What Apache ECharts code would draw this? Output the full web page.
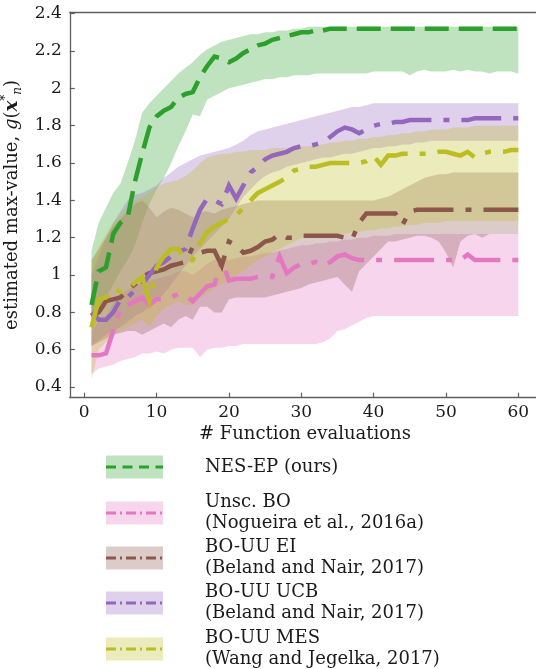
<!DOCTYPE html>
<html>
<head>
<meta charset="utf-8">
<script src="https://cdn.jsdelivr.net/npm/echarts@6/dist/echarts.min.js"></script>
<style>
  html, body { margin: 0; padding: 0; background: #fff; }
  #chart { width: 536px; height: 669px; }
</style>
</head>
<body>
<div id="chart"></div>
<script>
// number of function evaluations
const evals = [1, 2, 3, 4, 5, 6, 7, 8, 9, 10, 11, 12, 13, 14, 15, 16, 17, 18, 19, 20,
  21, 22, 23, 24, 25, 26, 27, 28, 29, 30, 31, 32, 33, 34, 35, 36, 37, 38, 39, 40,
  41, 42, 43, 44, 45, 46, 47, 48, 49, 50, 51, 52, 53, 54, 55, 56, 57, 58, 59, 60];

const xTicks = [0, 10, 20, 30, 40, 50, 60];
const yTicks = [0.4, 0.6, 0.8, 1, 1.2, 1.4, 1.6, 1.8, 2, 2.2, 2.4];

// NES-EP (ours)
const nesMean = [0.84, 1.02, 1.04, 1.22, 1.28, 1.31, 1.50, 1.65, 1.79, 1.85,
  1.88, 1.90, 1.95, 1.97, 1.98, 2.06, 2.12, 2.17, 2.16, 2.14,
  2.16, 2.19, 2.21, 2.23, 2.24, 2.26, 2.27, 2.28, 2.29, 2.30,
  2.30, 2.31, 2.31, 2.32, 2.32, 2.32, 2.32, 2.32, 2.32, 2.32,
  2.32, 2.32, 2.32, 2.32, 2.32, 2.32, 2.32, 2.32, 2.32, 2.32,
  2.32, 2.32, 2.32, 2.32, 2.32, 2.32, 2.32, 2.32, 2.32, 2.32];
const nesLow = [0.72, 0.80, 0.88, 0.95, 1.02, 1.08, 1.16, 1.28, 1.38, 1.46,
  1.52, 1.60, 1.69, 1.77, 1.86, 1.85, 1.94, 1.96, 1.98, 2.00,
  2.01, 2.02, 2.03, 2.04, 2.05, 2.05, 2.06, 2.06, 2.07, 2.07,
  2.07, 2.08, 2.08, 2.08, 2.08, 2.08, 2.08, 2.08, 2.08, 2.09,
  2.09, 2.09, 2.09, 2.09, 2.07, 2.09, 2.10, 2.09, 2.09, 2.09,
  2.10, 2.09, 2.10, 2.09, 2.09, 2.08, 2.09, 2.09, 2.09, 2.08];
const nesHigh = [1.13, 1.28, 1.36, 1.44, 1.49, 1.60, 1.72, 1.87, 1.92, 1.96,
  2.00, 2.04, 2.08, 2.11, 2.14, 2.18, 2.21, 2.23, 2.25, 2.26,
  2.27, 2.28, 2.29, 2.29, 2.30, 2.30, 2.31, 2.31, 2.32, 2.32,
  2.33, 2.33, 2.33, 2.33, 2.33, 2.33, 2.33, 2.33, 2.33, 2.33,
  2.33, 2.33, 2.33, 2.33, 2.33, 2.33, 2.33, 2.33, 2.33, 2.33,
  2.33, 2.33, 2.33, 2.33, 2.33, 2.33, 2.33, 2.33, 2.33, 2.33];

// Unsc. BO
const unscMean = [0.57, 0.57, 0.58, 0.70, 0.82, 0.84, 0.86, 0.88, 0.84, 0.87,
  0.87, 0.88, 0.90, 0.89, 0.86, 0.90, 0.94, 0.95, 1.08, 0.97,
  0.98, 0.98, 0.98, 0.99, 0.99, 0.99, 1.10, 1.01, 1.04, 1.06,
  1.06, 1.07, 1.05, 1.07, 1.10, 1.11, 1.09, 1.08, 1.08, 1.08,
  1.08, 1.08, 1.08, 1.08, 1.08, 1.08, 1.08, 1.08, 1.08, 1.08,
  1.08, 1.08, 1.11, 1.08, 1.08, 1.08, 1.08, 1.08, 1.08, 1.08];
const unscLow = [0.47, 0.50, 0.51, 0.52, 0.54, 0.55, 0.56, 0.58, 0.58, 0.59,
  0.58, 0.60, 0.61, 0.61, 0.61, 0.56, 0.60, 0.61, 0.61, 0.62,
  0.62, 0.63, 0.63, 0.63, 0.63, 0.63, 0.63, 0.63, 0.63, 0.63,
  0.63, 0.63, 0.64, 0.66, 0.70, 0.71, 0.73, 0.75, 0.77, 0.78,
  0.78, 0.78, 0.78, 0.78, 0.78, 0.78, 0.78, 0.78, 0.78, 0.78,
  0.78, 0.78, 0.78, 0.78, 0.78, 0.78, 0.78, 0.78, 0.78, 0.78];
const unscHigh = [0.70, 0.75, 0.78, 0.85, 0.90, 0.92, 0.94, 0.96, 0.97, 0.98,
  0.99, 1.00, 1.02, 1.02, 1.00, 1.03, 1.06, 1.08, 1.10, 1.08,
  1.09, 1.10, 1.10, 1.11, 1.12, 1.12, 1.13, 1.14, 1.15, 1.16,
  1.16, 1.17, 1.17, 1.18, 1.18, 1.19, 1.19, 1.20, 1.20, 1.21,
  1.21, 1.21, 1.22, 1.22, 1.22, 1.22, 1.22, 1.22, 1.22, 1.22,
  1.22, 1.22, 1.22, 1.22, 1.22, 1.22, 1.22, 1.22, 1.22, 1.22];

// BO-UU EI
const eiMean = [0.78, 0.80, 0.86, 0.87, 0.88, 0.92, 0.95, 0.99, 1.01, 1.02,
  1.03, 1.05, 1.06, 1.07, 1.15, 1.12, 1.13, 1.13, 1.05, 1.18,
  1.16, 1.12, 1.13, 1.15, 1.18, 1.19, 1.22, 1.20, 1.20, 1.21,
  1.21, 1.21, 1.21, 1.21, 1.21, 1.20, 1.19, 1.28, 1.33, 1.33,
  1.33, 1.33, 1.33, 1.27, 1.34, 1.35, 1.35, 1.35, 1.35, 1.35,
  1.35, 1.35, 1.35, 1.35, 1.35, 1.35, 1.35, 1.35, 1.35, 1.35];
const eiLow = [0.62, 0.64, 0.66, 0.68, 0.69, 0.70, 0.70, 0.68, 0.70, 0.72,
  0.74, 0.72, 0.76, 0.78, 0.76, 0.83, 0.83, 0.80, 0.80, 0.87,
  0.88, 0.88, 0.88, 0.88, 0.88, 0.89, 0.90, 0.91, 0.92, 0.93,
  0.95, 0.96, 0.97, 0.98, 0.99, 0.95, 0.91, 1.02, 1.06, 1.10,
  1.14, 1.18, 1.18, 1.19, 1.20, 1.21, 1.21, 1.20, 1.18, 1.12,
  1.04, 1.18, 1.21, 1.22, 1.20, 1.22, 1.22, 1.22, 1.22, 1.22];
const eiHigh = [1.08, 1.14, 1.20, 1.26, 1.30, 1.34, 1.38, 1.40, 1.36, 1.31,
  1.34, 1.36, 1.35, 1.33, 1.31, 1.34, 1.34, 1.33, 1.35, 1.36,
  1.37, 1.38, 1.39, 1.40, 1.40, 1.40, 1.40, 1.40, 1.40, 1.40,
  1.40, 1.40, 1.40, 1.40, 1.40, 1.40, 1.40, 1.40, 1.40, 1.40,
  1.41, 1.42, 1.44, 1.46, 1.48, 1.50, 1.52, 1.53, 1.54, 1.54,
  1.55, 1.55, 1.55, 1.55, 1.55, 1.55, 1.55, 1.55, 1.55, 1.55];

// BO-UU UCB
const ucbMean = [0.80, 0.76, 0.76, 0.80, 0.87, 0.88, 0.92, 0.95, 1.00, 1.05,
  1.07, 1.10, 1.12, 1.14, 1.25, 1.35, 1.41, 1.40, 1.38, 1.48,
  1.41, 1.48, 1.55, 1.58, 1.62, 1.64, 1.65, 1.66, 1.68, 1.69,
  1.69, 1.70, 1.71, 1.74, 1.77, 1.79, 1.78, 1.76, 1.78, 1.80,
  1.81, 1.81, 1.82, 1.82, 1.83, 1.83, 1.83, 1.83, 1.83, 1.83,
  1.83, 1.83, 1.83, 1.84, 1.84, 1.84, 1.84, 1.84, 1.84, 1.84];
const ucbLow = [0.62, 0.65, 0.68, 0.70, 0.72, 0.75, 0.78, 0.80, 0.83, 0.86,
  0.90, 0.95, 1.00, 1.05, 1.10, 1.14, 1.18, 1.22, 1.26, 1.30,
  1.36, 1.42, 1.46, 1.50, 1.53, 1.55, 1.56, 1.58, 1.59, 1.60,
  1.61, 1.62, 1.63, 1.63, 1.64, 1.65, 1.65, 1.66, 1.67, 1.68,
  1.68, 1.69, 1.69, 1.70, 1.70, 1.71, 1.71, 1.72, 1.72, 1.72,
  1.72, 1.72, 1.72, 1.72, 1.72, 1.72, 1.72, 1.72, 1.72, 1.72];
const ucbHigh = [1.00, 1.10, 1.20, 1.28, 1.34, 1.40, 1.43, 1.44, 1.46, 1.48,
  1.52, 1.55, 1.58, 1.60, 1.62, 1.64, 1.65, 1.66, 1.67, 1.68,
  1.70, 1.72, 1.75, 1.77, 1.78, 1.79, 1.80, 1.81, 1.82, 1.83,
  1.84, 1.85, 1.86, 1.87, 1.88, 1.89, 1.90, 1.90, 1.91, 1.92,
  1.92, 1.92, 1.92, 1.92, 1.92, 1.92, 1.92, 1.92, 1.92, 1.92,
  1.92, 1.92, 1.92, 1.92, 1.92, 1.92, 1.92, 1.92, 1.92, 1.92];

// BO-UU MES
const mesMean = [0.72, 0.87, 0.88, 0.93, 0.91, 0.92, 0.96, 0.99, 0.86, 1.04,
  1.10, 1.14, 1.14, 1.08, 1.08, 1.17, 1.23, 1.26, 1.28, 1.30,
  1.32, 1.36, 1.40, 1.44, 1.46, 1.48, 1.50, 1.52, 1.56, 1.57,
  1.58, 1.58, 1.59, 1.60, 1.60, 1.60, 1.60, 1.60, 1.61, 1.64,
  1.59, 1.64, 1.64, 1.65, 1.65, 1.65, 1.65, 1.65, 1.66, 1.66,
  1.65, 1.64, 1.66, 1.63, 1.65, 1.66, 1.66, 1.66, 1.67, 1.67];
const mesLow = [0.44, 0.60, 0.64, 0.68, 0.70, 0.72, 0.74, 0.76, 0.72, 0.78,
  0.82, 0.84, 0.86, 0.84, 0.84, 0.88, 0.90, 0.93, 0.95, 0.97,
  1.00, 1.02, 1.05, 1.08, 1.10, 1.12, 1.14, 1.16, 1.18, 1.20,
  1.20, 1.21, 1.21, 1.22, 1.22, 1.22, 1.23, 1.23, 1.24, 1.24,
  1.25, 1.25, 1.26, 1.26, 1.27, 1.27, 1.28, 1.28, 1.28, 1.29,
  1.29, 1.29, 1.29, 1.29, 1.29, 1.29, 1.29, 1.29, 1.29, 1.29];
const mesHigh = [1.05, 1.15, 1.22, 1.28, 1.32, 1.36, 1.40, 1.42, 1.44, 1.47,
  1.49, 1.50, 1.51, 1.53, 1.56, 1.60, 1.63, 1.64, 1.65, 1.65,
  1.66, 1.66, 1.67, 1.67, 1.67, 1.68, 1.68, 1.68, 1.69, 1.69,
  1.69, 1.70, 1.70, 1.71, 1.71, 1.72, 1.72, 1.73, 1.73, 1.74,
  1.74, 1.75, 1.75, 1.76, 1.76, 1.77, 1.77, 1.78, 1.78, 1.78,
  1.79, 1.79, 1.79, 1.80, 1.80, 1.80, 1.80, 1.80, 1.80, 1.80];

const legendNames = [
  'NES-EP (ours)',
  'Unsc. BO\n(Nogueira et al., 2016a)',
  'BO-UU EI\n(Beland and Nair, 2017)',
  'BO-UU UCB\n(Beland and Nair, 2017)',
  'BO-UU MES\n(Wang and Jegelka, 2017)'
];

const FONT = '"DejaVu Serif", "Liberation Serif", serif';
const dashDot = [40, 12, 6, 12];
const methods = [
  { mean: nesMean, low: nesLow, high: nesHigh, color: '#2ca02c', dash: [24, 10], legendDash: [10, 6.5] },
  { mean: unscMean, low: unscLow, high: unscHigh, color: '#e377c2', dash: dashDot, legendDash: [10, 4, 2, 4] },
  { mean: eiMean, low: eiLow, high: eiHigh, color: '#8c564b', dash: dashDot, legendDash: [10, 4, 2, 4] },
  { mean: ucbMean, low: ucbLow, high: ucbHigh, color: '#9467bd', dash: dashDot, legendDash: [10, 4, 2, 4] },
  { mean: mesMean, low: mesLow, high: mesHigh, color: '#bcbd22', dash: dashDot, legendDash: [10, 4, 2, 4] }
];

let myChart = echarts.init(document.getElementById('chart'));

let series = [];
// shaded bands between low and high, one polygon per method
methods.forEach((m) => {
  series.push({
    type: 'custom',
    data: evals.map((x, i) => [x, m.low[i], m.high[i]]),
    encode: { x: 0, y: [1, 2] },
    clip: true,
    silent: true,
    z: 1,
    renderItem: function (params, api) {
      if (params.dataIndex !== 0) return;
      let pts = [];
      for (let i = 0; i < evals.length; i++) pts.push(api.coord([evals[i], m.high[i]]));
      for (let i = evals.length - 1; i >= 0; i--) pts.push(api.coord([evals[i], m.low[i]]));
      return {
        type: 'polygon',
        shape: { points: pts },
        style: { fill: m.color, opacity: 0.3 }
      };
    }
  });
});
// mean curves on top
methods.forEach((m) => {
  series.push({
    type: 'line',
    data: evals.map((x, i) => [x, m.mean[i]]),
    symbol: 'none',
    lineStyle: { color: m.color, width: 4.5, type: m.dash, cap: 'butt', join: 'miter' },
    silent: true,
    z: 3
  });
});

const legendY = [467, 513, 558, 603, 649];
let legendItems = methods.map((m, k) => ({
  type: 'group',
  children: [
    {
      type: 'rect',
      shape: { x: 106, y: legendY[k] - 11.5, width: 57, height: 23 },
      style: { fill: m.color, opacity: 0.3 }
    },
    {
      type: 'line',
      shape: { x1: 106, y1: legendY[k], x2: 163, y2: legendY[k] },
      style: { stroke: m.color, lineWidth: 3, lineDash: m.legendDash }
    },
    {
      type: 'text',
      x: 205,
      y: legendY[k],
      style: {
        text: legendNames[k],
        fontFamily: FONT,
        fontSize: 18,
        fill: '#1a1a1a',
        verticalAlign: 'middle',
        lineHeight: 21
      }
    }
  ]
}));

const axisColor = '#5f5f5f';
let option = {
  animation: false,
  backgroundColor: '#fff',
  grid: { left: 69.8, top: 12.3, width: 470.2, height: 385.4, containLabel: false, outerBoundsMode: 'none' },
  xAxis: [
    {
      type: 'value',
      min: -2,
      max: 63,
      position: 'bottom',
      axisLine: { show: true, onZero: false, lineStyle: { color: axisColor, width: 1.3 } },
      axisTick: { show: true, inside: true, length: 5, customValues: xTicks, lineStyle: { color: axisColor, width: 1.2 } },
      axisLabel: { customValues: xTicks, margin: 6, fontFamily: FONT, fontSize: 17, color: '#1a1a1a' },
      splitLine: { show: false },
      name: '# Function evaluations',
      nameLocation: 'middle',
      nameGap: 24,
      nameTextStyle: { fontFamily: FONT, fontSize: 18, color: '#1a1a1a' }
    },
    {
      type: 'value',
      min: -2,
      max: 63,
      position: 'top',
      axisLine: { show: true, onZero: false, lineStyle: { color: axisColor, width: 1.3 } },
      axisTick: { show: false },
      axisLabel: { show: false },
      splitLine: { show: false }
    }
  ],
  yAxis: {
    type: 'value',
    min: 0.343,
    max: 2.4075,
    axisLine: { show: true, onZero: false, lineStyle: { color: axisColor, width: 1.3 } },
    axisTick: { show: true, inside: true, length: 5, customValues: yTicks, lineStyle: { color: axisColor, width: 1.2 } },
    axisLabel: { customValues: yTicks, margin: 8, fontFamily: FONT, fontSize: 17, color: '#1a1a1a' },
    splitLine: { show: false },
    name: '{t|estimated max-value, }{i|g}{t|(}{b|x}{sup|*}{sub|n}{t|)}',
    nameLocation: 'middle',
    nameGap: 29,
    nameTextStyle: {
      fontFamily: FONT,
      fontSize: 18,
      color: '#1a1a1a',
      rich: {
        t: { fontFamily: FONT, fontSize: 18, color: '#1a1a1a', lineHeight: 24 },
        i: { fontFamily: FONT, fontSize: 18, fontStyle: 'italic', color: '#1a1a1a', lineHeight: 24 },
        b: { fontFamily: FONT, fontSize: 18, fontStyle: 'italic', fontWeight: 'bold', color: '#1a1a1a', lineHeight: 24 },
        sup: { fontFamily: FONT, fontSize: 12, color: '#1a1a1a', verticalAlign: 'top', lineHeight: 12 },
        sub: { fontFamily: FONT, fontSize: 12, fontStyle: 'italic', color: '#1a1a1a', verticalAlign: 'bottom', lineHeight: 12 }
      }
    }
  },
  graphic: legendItems,
  series: series
};

myChart.setOption(option, true);
</script>
</body>
</html>
